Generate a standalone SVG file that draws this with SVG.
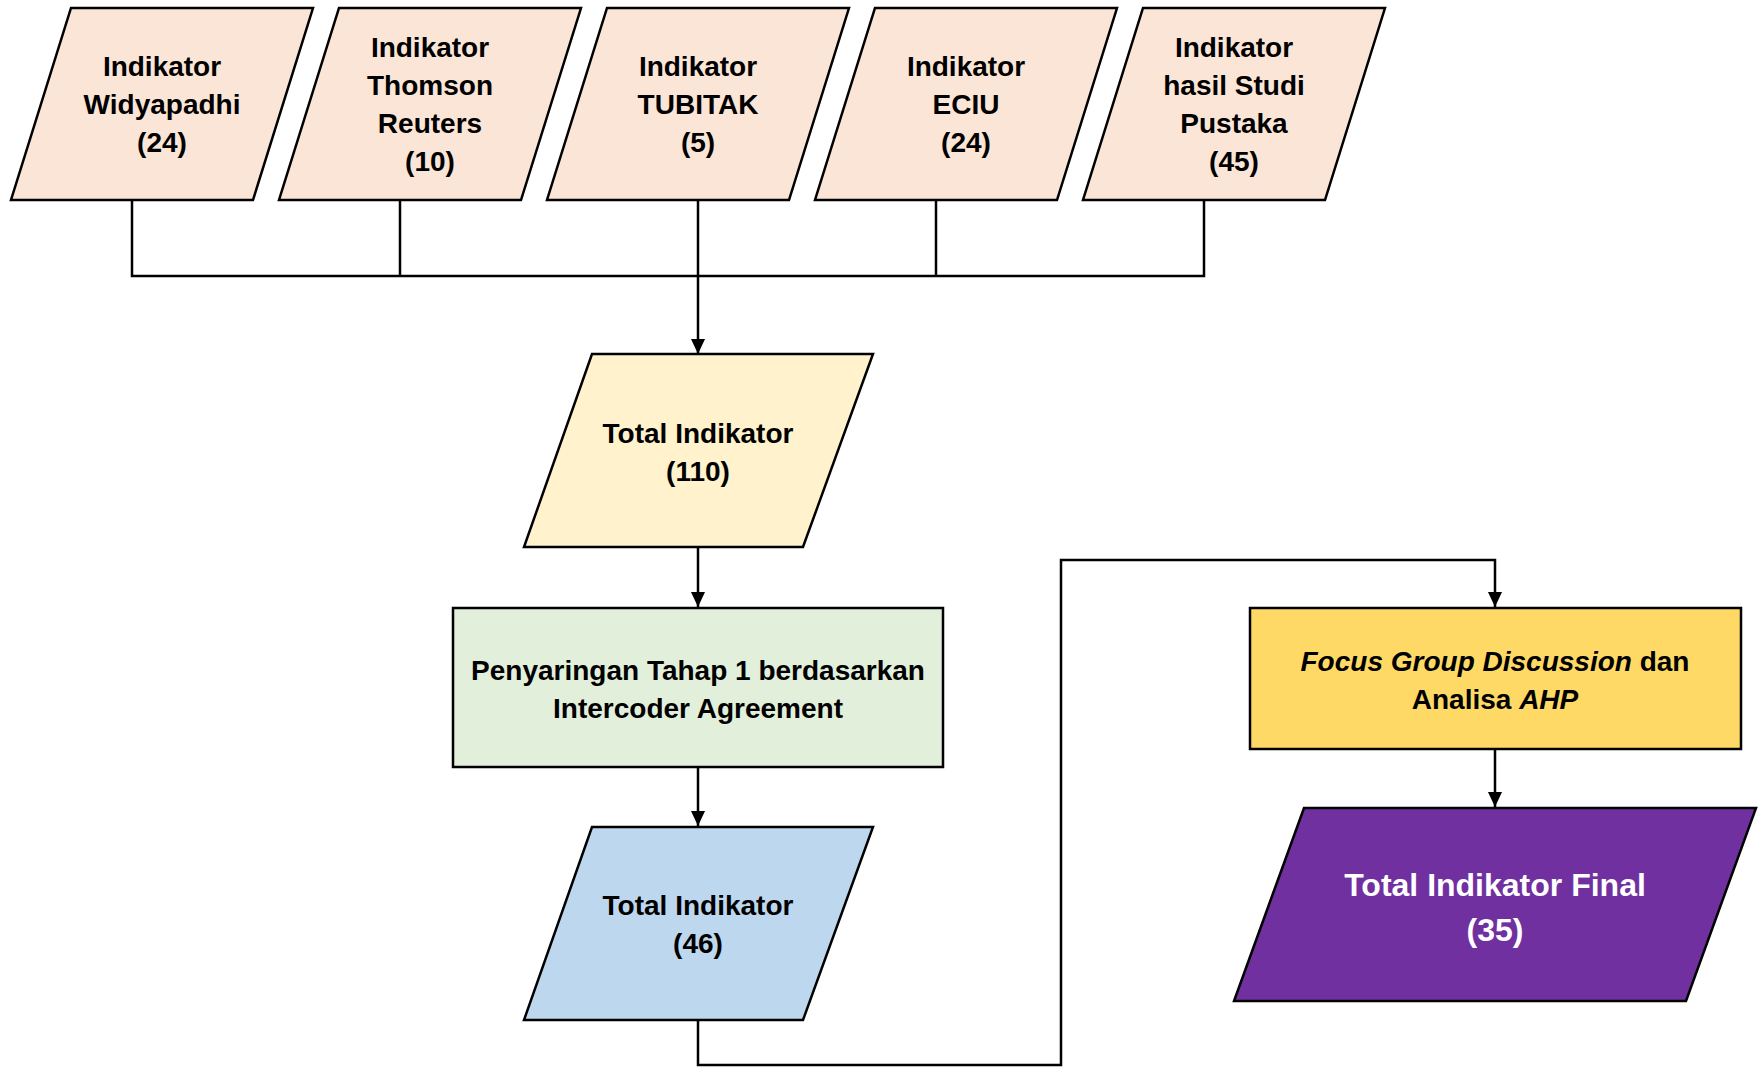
<svg xmlns="http://www.w3.org/2000/svg" width="1759" height="1067" viewBox="0 0 1759 1067">
<defs>
<marker id="arr" viewBox="0 0 15 14" refX="15" refY="7" markerWidth="15" markerHeight="14" markerUnits="userSpaceOnUse" orient="auto">
<path d="M0,0 L15,7 L0,14 Z" fill="#000"/>
</marker>
<style>
.sh{stroke:#000;stroke-width:2.5;}
.src{fill:#FBE5D6;}
.t{font-family:"Liberation Sans",Arial,sans-serif;font-weight:bold;font-size:28px;fill:#000;text-anchor:middle;}
.tw{font-family:"Liberation Sans",Arial,sans-serif;font-weight:bold;font-size:32px;fill:#fff;text-anchor:middle;}
.c{fill:none;stroke:#000;stroke-width:2.5;}
</style>
</defs>
<rect width="1759" height="1067" fill="#fff"/>
<g id="connectors">
<polyline class="c" points="132,200 132,276 1204,276 1204,200"/>
<line class="c" x1="400" y1="200" x2="400" y2="276"/>
<line class="c" x1="936" y1="200" x2="936" y2="276"/>
<line class="c" x1="698" y1="200" x2="698" y2="354" marker-end="url(#arr)"/>
<line class="c" x1="698" y1="547" x2="698" y2="607" marker-end="url(#arr)"/>
<line class="c" x1="698" y1="767" x2="698" y2="826" marker-end="url(#arr)"/>
<polyline class="c" points="698,1020 698,1065 1061,1065 1061,560 1495,560 1495,607" marker-end="url(#arr)"/>
<line class="c" x1="1495" y1="749" x2="1495" y2="807" marker-end="url(#arr)"/>
</g>
<g id="n1">
<polygon class="sh src" points="71,8 313,8 253,200 11,200"/>
<text class="t" x="162" y="76">Indikator</text>
<text class="t" x="162" y="114">Widyapadhi</text>
<text class="t" x="162" y="152">(24)</text>
</g>
<g id="n2">
<polygon class="sh src" points="339,8 581,8 521,200 279,200"/>
<text class="t" x="430" y="57">Indikator</text>
<text class="t" x="430" y="95">Thomson</text>
<text class="t" x="430" y="133">Reuters</text>
<text class="t" x="430" y="171">(10)</text>
</g>
<g id="n3">
<polygon class="sh src" points="607,8 849,8 789,200 547,200"/>
<text class="t" x="698" y="76">Indikator</text>
<text class="t" x="698" y="114">TUBITAK</text>
<text class="t" x="698" y="152">(5)</text>
</g>
<g id="n4">
<polygon class="sh src" points="875,8 1117,8 1057,200 815,200"/>
<text class="t" x="966" y="76">Indikator</text>
<text class="t" x="966" y="114">ECIU</text>
<text class="t" x="966" y="152">(24)</text>
</g>
<g id="n5">
<polygon class="sh src" points="1143,8 1385,8 1325,200 1083,200"/>
<text class="t" x="1234" y="57">Indikator</text>
<text class="t" x="1234" y="95">hasil Studi</text>
<text class="t" x="1234" y="133">Pustaka</text>
<text class="t" x="1234" y="171">(45)</text>
</g>
<g id="total110">
<polygon class="sh" fill="#FFF2CC" points="592,354 873,354 803,547 524,547"/>
<text class="t" x="698" y="443">Total Indikator</text>
<text class="t" x="698" y="481">(110)</text>
</g>
<g id="filter1">
<rect class="sh" fill="#E2EFDA" x="453" y="608" width="490" height="159"/>
<text class="t" x="698" y="680">Penyaringan Tahap 1 berdasarkan</text>
<text class="t" x="698" y="718">Intercoder Agreement</text>
</g>
<g id="total46">
<polygon class="sh" fill="#BDD7EE" points="592,827 873,827 803,1020 524,1020"/>
<text class="t" x="698" y="915">Total Indikator</text>
<text class="t" x="698" y="953">(46)</text>
</g>
<g id="fgd">
<rect class="sh" fill="#FFD966" x="1250" y="608" width="491" height="141"/>
<text class="t" x="1495" y="671" font-size="27"><tspan font-style="italic">Focus Group Discussion</tspan> dan</text>
<text class="t" x="1495" y="709" font-size="27">Analisa <tspan font-style="italic">AHP</tspan></text>
</g>
<g id="final">
<polygon class="sh" fill="#7030A0" points="1304,808 1756,808 1686,1001 1234,1001"/>
<text class="tw" x="1495" y="896">Total Indikator Final</text>
<text class="tw" x="1495" y="941">(35)</text>
</g>
</svg>
